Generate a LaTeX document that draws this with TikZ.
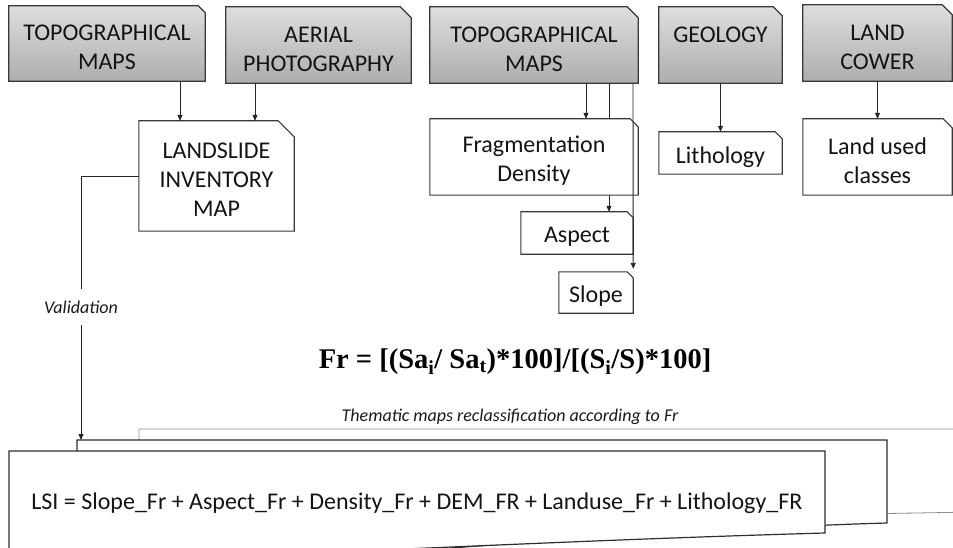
\documentclass[tikz,border=0pt]{standalone}
\usepackage{fontspec}
\setmainfont{Carlito}
\newfontfamily\frfont{Liberation Serif}
\usetikzlibrary{arrows.meta,backgrounds,calc}

\tikzset{
  boxtxt/.style={inner sep=0pt, align=center, font=\fontsize{24}{29}\selectfont, text=black!92},
  srcshape/.style={draw=black!78, line width=1.2pt, top color=gray!26, bottom color=gray!64},
  outshape/.style={draw=black!78, line width=1.1pt, fill=white},
  arr/.style={draw=black!85, line width=0.9pt, -{Triangle[length=6pt,width=5pt]}},
  conn/.style={draw=black!85, line width=0.9pt},
  note/.style={font=\itshape\fontsize{18}{22}\selectfont, text=black!90, inner xsep=0pt},
  pageshape/.style={draw=black!82, line width=1.2pt, fill=white},
}

% name, style, cx, cy, w, h, fold, text
\newcommand{\docnode}[8]{%
  \node[inner sep=0pt, minimum width=#5pt, minimum height=#6pt] (#1) at (#3,#4) {};
  \node[boxtxt] (#1-t) at ([yshift=-4pt]#1.center) {#8};
  \begin{scope}[on background layer]
    \path[#2] (#1.north west) -- ([xshift=-#7pt]#1.north east) -- ([yshift=-#7pt]#1.north east)
      -- (#1.south east) -- (#1.south west) -- cycle;
  \end{scope}}

\begin{document}
\begin{tikzpicture}[x=1pt,y=-1pt]
\useasboundingbox (0,0) rectangle (953,548);

% ---------- bottom stacked pages ----------
\draw[draw=black!45, line width=0.8pt, fill=white]
  (139,560) -- (139,429) -- (975,429) -- (975,512) -- (887,513.5)
  .. controls (700,520) and (500,540) .. (139,560);
\draw[pageshape]
  (77,570) -- (77,440) -- (887,440) -- (887,523)
  .. controls (780,526) and (600,536) .. (400,552) -- (77,570);
\draw[pageshape]
  (9,580) -- (9,451) -- (825,451) -- (825,533)
  .. controls (650,538) and (500,545) .. (393,549.5)
  .. controls (250,556) .. (9,580);
\coordinate (midtop) at (0,440);
\node[boxtxt] (lsi) at (417,503) {LSI = Slope\_Fr + Aspect\_Fr + Density\_Fr + DEM\_FR + Landuse\_Fr + Lithology\_FR};

% ---------- source boxes ----------
\docnode{topo1}{srcshape}{107}{43.5}{196}{75}{7}{TOPOGRAPHICAL\\MAPS}
\docnode{aerial}{srcshape}{318.5}{45}{185}{76}{11}{AERIAL\\PHOTOGRAPHY}
\docnode{topo2}{srcshape}{534}{45}{208}{76}{11}{TOPOGRAPHICAL\\MAPS}
\docnode{geology}{srcshape}{720.5}{45}{123}{76}{9}{GEOLOGY\\~}
\docnode{land}{srcshape}{877.5}{43}{149}{76}{10}{LAND\\COWER}

% ---------- derived boxes ----------
\docnode{landslide}{outshape}{216.5}{176}{155}{110}{16}{LANDSLIDE\\INVENTORY\\MAP}
\docnode{frag}{outshape}{534}{157}{208}{76}{8}{Fragmentation\\Density}
\docnode{litho}{outshape}{720.5}{153}{123}{42}{7}{Lithology}
\docnode{landused}{outshape}{877.5}{157}{149}{76}{9}{Land used\\classes}
\docnode{aspect}{outshape}{577}{233}{112}{42}{6}{Aspect}
\docnode{slope}{outshape}{596}{292.5}{74}{41}{6}{Slope}

% ---------- texts ----------
\node[note, inner ysep=11pt] (val) at (81,307) {Validation};
\node[note, inner sep=0pt] (thm) at (510,417) {Thematic maps reclassification according to Fr};
\node[inner sep=0pt, font=\frfont\bfseries\fontsize{28.5}{32}\selectfont] (frml) at (515,362)
  {Fr = [(Sa\textsubscript{i}/ Sa\textsubscript{t})*100]/[(S\textsubscript{i}/S)*100]};

% ---------- connectors ----------
\coordinate (c180) at (180,0);
\coordinate (c255) at (255,0);
\coordinate (c586) at (586,0);
\coordinate (c609) at (609,0);
\coordinate (c633) at (633,0);
\draw[arr] (topo1.south -| c180) -- (landslide.north -| c180);
\draw[arr] (aerial.south -| c255) -- (landslide.north -| c255);
\draw[arr] (topo2.south -| c586) -- (frag.north -| c586);
\draw[conn] (topo2.south -| c609) -- (frag.north -| c609);
\draw[arr] (frag.south -| c609) -- (aspect.north -| c609);
\draw[arr] (topo2.south -| c633) -- ([yshift=3pt]slope.north east);
\draw[arr] (geology.south) -- (litho.north);
\draw[arr] (land.south) -- (landused.north);
\draw[conn] (landslide.west) -| (val.north);
\draw[arr] (val.south) -- (val.south |- midtop);
\end{tikzpicture}
\end{document}
